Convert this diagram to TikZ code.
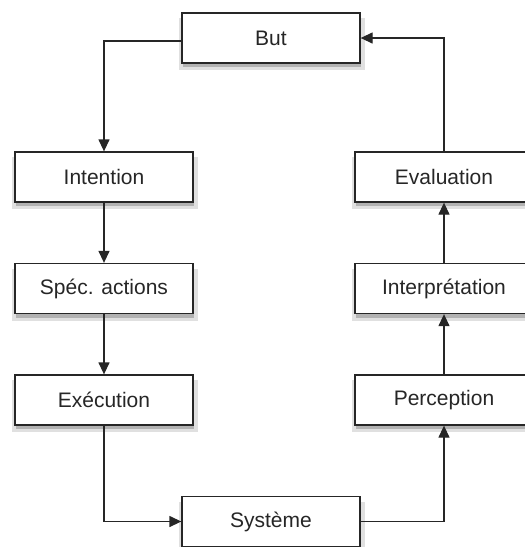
\documentclass[tikz,border=0pt]{standalone}
\usepackage{fontspec}
\setmainfont{Liberation Sans}
\usetikzlibrary{arrows.meta,shadows}
\begin{document}
\begin{tikzpicture}[x=1pt,y=-1pt,
  box/.style={draw=black!85,line width=1.3pt,fill=white,minimum width=178pt,minimum height=50pt,inner sep=0pt,
    font=\fontsize{21}{25}\selectfont,text=black!85,
    general shadow={fill=black!12,shadow xshift=1pt,shadow yshift=-6pt,shadow scale=1.04},
    general shadow={fill=black!30,shadow xshift=1pt,shadow yshift=-4pt}},
  conn/.style={draw=black!85,line width=1.3pt,-{Triangle[length=12pt,width=11pt]}}]
\useasboundingbox (0,0) rectangle (525,547);
\clip (0,0) rectangle (525,547);
\node[box] (but) at (271,38) {But};
\node[box] (int) at (104,177) {Intention};
\node[box] (spec) at (104,288.5) {Spéc. actions};
\node[box] (exe) at (104,400) {Exécution};
\node[box] (sys) at (271,521.5) {Système};
\node[box] (per) at (444,400) {Perception};
\node[box] (inp) at (444,288.5) {Interprétation};
\node[box] (eva) at (444,177) {Evaluation};
\draw[conn] ([yshift=-3pt]but.west) -| (int.north);
\draw[conn] (int) -- (spec);
\draw[conn] (spec) -- (exe);
\draw[conn] (exe.south) |- (sys.west);
\draw[conn] (sys.east) -| (per.south);
\draw[conn] (per) -- (inp);
\draw[conn] (inp) -- (eva);
\draw[conn] (eva.north) |- (but.east);
\end{tikzpicture}
\end{document}
